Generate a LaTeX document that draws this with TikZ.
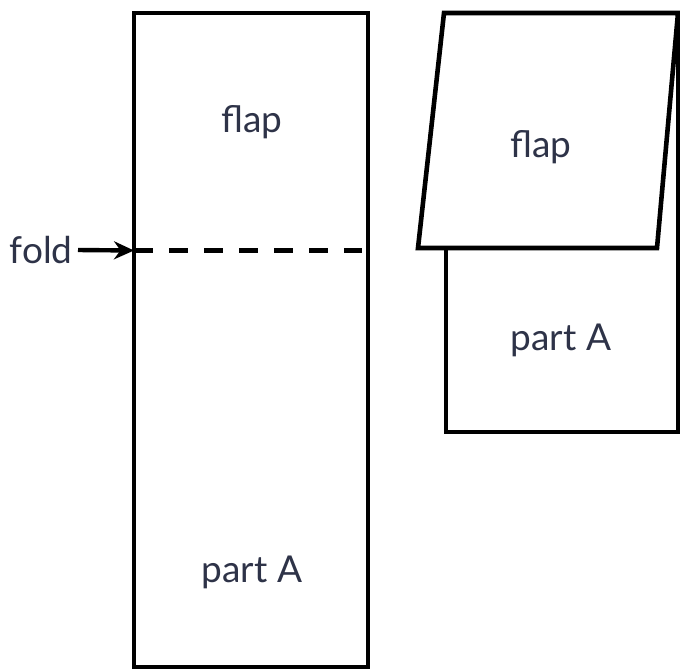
\documentclass[tikz,border=0pt]{standalone}
\usepackage{fontspec}
\setmainfont{Lato}
\usetikzlibrary{arrows.meta}
\definecolor{txt}{HTML}{2E3348}
\tikzset{
  edge/.style={line width=2.3pt, line join=miter},
  lbl/.style={text=txt, font=\fontsize{18.5}{20}\selectfont, inner sep=0pt},
}
\begin{document}
\begin{tikzpicture}[x=0.5pt,y=-0.5pt]
\useasboundingbox (0,0) rectangle (680,671);
% left strip
\draw[edge] (134,13) rectangle (368,667);
\coordinate (dL) at (134,250.5);
\coordinate (dR) at (362,250.5);
\draw[line width=2.6pt, dash pattern=on 9.5pt off 8pt] (dL) -- (dR);
\node[lbl] (flapL) at (252,122) {flap};
\node[lbl] (partL) at (252,572) {part A};
\node[lbl, anchor=east] (fold) at (73,250) {fold};
\draw[line width=2.2pt, -{Stealth[length=10pt,width=9pt]}] (fold.east) ++(2.5pt,0) -- (dL);
% right folded
\draw[edge] (446,13) rectangle (678,432);
\draw[edge, fill=white] (444,13) -- (678,13) -- (657,248) -- (418,248) -- cycle;
\node[lbl] (flapR) at (541,147) {flap};
\node[lbl] (partR) at (561,340) {part A};
\end{tikzpicture}
\end{document}
